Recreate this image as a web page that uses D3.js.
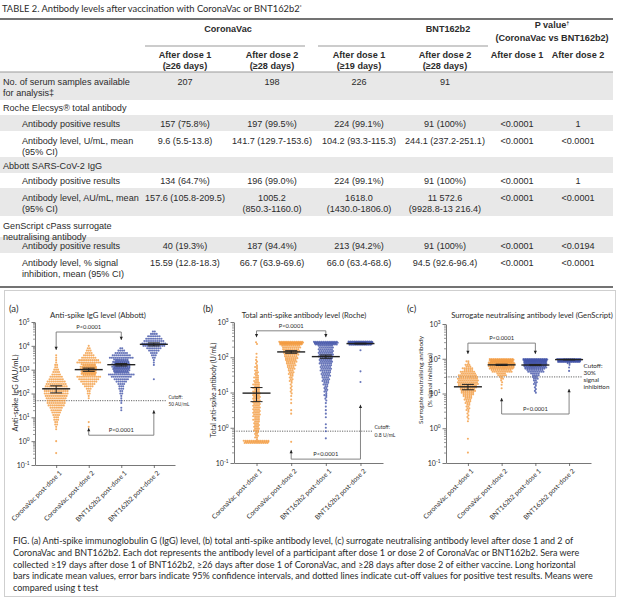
<!DOCTYPE html>
<html><head><meta charset="utf-8">
<script src="https://cdn.jsdelivr.net/npm/d3@7"></script>
<style>body{margin:0;background:#fff}svg{display:block}</style>
</head><body>
<svg id="c" width="620" height="600"></svg>
<script>
// ---------------- DATA ----------------
const groups = ["CoronaVac post-dose 1","CoronaVac post-dose 2","BNT162b2 post-dose 1","BNT162b2 post-dose 2"];
const groupColors = ["#f39a3d","#f39a3d","#4152a8","#4152a8"];

// Table text
const tableTitle = "TABLE 2. Antibody levels after vaccination with CoronaVac or BNT162b2";
const vaccineHeaders = ["CoronaVac","BNT162b2"];
const pHeader = ["P value","(CoronaVac vs BNT162b2)"];
const doseHeaders = ["After dose 1","After dose 2","After dose 1","After dose 2","After dose 1","After dose 2"];
const dayHeaders = ["(≥26 days)","(≥28 days)","(≥19 days)","(≥28 days)","",""];
const sampleCounts = ["207","198","226","91","",""];
const rochePositive = ["157 (75.8%)","197 (99.5%)","224 (99.1%)","91 (100%)","<0.0001","1"];
const rocheLevel = ["9.6 (5.5-13.8)","141.7 (129.7-153.6)","104.2 (93.3-115.3)","244.1 (237.2-251.1)","<0.0001","<0.0001"];
const abbottPositive = ["134 (64.7%)","196 (99.0%)","224 (99.1%)","91 (100%)","<0.0001","1"];
const abbottLevel = [["157.6 (105.8-209.5)"],["1005.2","(850.3-1160.0)"],["1618.0","(1430.0-1806.0)"],["11 572.6","(9928.8-13 216.4)"],["<0.0001"],["<0.0001"]];
const genPositive = ["40 (19.3%)","187 (94.4%)","213 (94.2%)","91 (100%)","<0.0001","<0.0194"];
const genLevel = ["15.59 (12.8-18.3)","66.7 (63.9-69.6)","66.0 (63.4-68.6)","94.5 (92.6-96.4)","<0.0001","<0.0001"];

// Plot means and 95% CI
const abbottMean = [157.6, 1005.2, 1618.0, 11572.6];
const abbottCI = [[105.8,209.5],[850.3,1160.0],[1430.0,1806.0],[9928.8,13216.4]];
const rocheMean = [9.6, 141.7, 104.2, 244.1];
const rocheCI = [[5.5,13.8],[129.7,153.6],[93.3,115.3],[237.2,251.1]];
const genMean = [15.59, 66.7, 66.0, 94.5];
const genCI = [[12.8,18.3],[63.9,69.6],[63.4,68.6],[92.6,96.4]];

// Dot distributions: participants per 0.1-log10 bin, first bin at log10 = start
const abbottStart = [-0.5, 0.6, 1.3, 2.6];
const abbottCounts = [
  [1,0,0,0,0,1,0,0,0,0,1,1,2,2,3,3,4,5,6,7,9,10,10,11,12,13,13,13,12,11,10,8,7,5,4,3,2,2,1,1,1,1],
  [1,0,1,0,0,0,0,0,0,0,0,0,1,1,2,2,3,5,7,9,11,13,15,16,17,17,15,13,11,8,6,4,3,2,1],
  [1,1,0,1,1,1,1,2,2,3,3,4,6,8,11,14,16,18,19,19,17,15,13,10,7,4,2],
  [1,0,0,0,0,0,1,1,1,2,3,4,6,8,12,13,11,9,7,4,2]
];
const rocheStart = [-0.4, -0.4, -0.3, 1.3];
const rocheCounts = [
  [40,3,4,5,6,6,7,7,8,8,8,8,8,8,8,7,7,6,5,4,4,3,2,2,1,1,0,0,2],
  [1,0,0,0,0,0,0,0,1,1,0,1,1,1,2,2,2,3,4,5,6,8,10,12,14,16,18,20,62],
  [1,0,1,1,1,0,1,1,1,1,1,2,3,3,4,5,7,8,10,11,12,13,14,15,16,16,16,50],
  [1,0,0,1,0,0,0,0,0,1,0,88]
];
const genStart = [-0.7, 1.15, 1.05, 1.65];
const genCounts = [
  [1,0,0,0,1,0,0,0,0,1,2,2,3,4,5,7,9,13,16,19,22,22,20,16,11,6,3],
  [1,1,2,4,10,22,40,55,63],
  [2,2,3,4,6,9,18,35,60,87],
  [1,1,3,86]
];

const cutoffs = [50, 0.8, 30];
const cutoffLabels = [["Cutoff:","50 AU/mL"],["Cutoff:","0.8 U/mL"],["Cutoff:","30%","signal","inhibition"]];
const panelTitles = ["Anti-spike IgG level (Abbott)","Total anti-spike antibody level (Roche)","Surrogate neutralising antibody level (GenScript)"];
const panelLetters = ["(a)","(b)","(c)"];
const yLabels = [["Anti-spike IgG (AU/mL)"],["Total anti-spike antibody (U/mL)"],["Surrogate neutralising antibody","(% signal inhibition)"]];
const pText = "P<0.0001";

const captionLines = [
  "FIG.  (a) Anti-spike immunoglobulin G (IgG) level, (b) total anti-spike antibody level, (c) surrogate neutralising antibody level after dose 1 and 2 of",
  "CoronaVac and BNT162b2. Each dot represents the antibody level of a participant after dose 1 or dose 2 of CoronaVac or BNT162b2. Sera were",
  "collected ≥19 days after dose 1 of BNT162b2, ≥26 days after dose 1 of CoronaVac, and ≥28 days after dose 2 of either vaccine. Long horizontal",
  "bars indicate mean values, error bars indicate 95% confidence intervals, and dotted lines indicate cut-off values for positive test results. Means were",
  "compared using t test"
];

// ---------------- DRAW ----------------
const svg = d3.select("#c");
const TF = "'Liberation Sans', Arial, Helvetica, sans-serif";
const FF = "Lato, 'Open Sans', sans-serif";
const ink = "#2b2b2b";
function fit(sel, target){
  const fs = +sel.attr("font-size");
  const w = sel.node().getComputedTextLength();
  const nf = w>0 ? fs*target/w : fs;
  sel.attr("font-size", nf);
  return nf;
}

// ===== TABLE =====
const titleEl = svg.append("text").attr("x",2).attr("y",9).attr("dy","0.35em").attr("font-family",FF).attr("font-size",9).attr("fill",ink).text(tableTitle);
const tfs = fit(titleEl, 298);
titleEl.append("tspan").attr("dy",-3.5).attr("font-size",tfs*0.55).text("*");

const tableW = 613;
const colX = [185, 272, 359, 445, 517, 578];
const rows = [
  {top:72, h:28, fill:true, label:["No. of serum samples available","for analysis‡"], indent:0, cells:sampleCounts.map(d=>[d])},
  {top:100, h:15, fill:false, label:["Roche Elecsys® total antibody"], indent:0, cells:[]},
  {top:115, h:16, fill:true, label:["Antibody positive results"], indent:1, cells:rochePositive.map(d=>[d])},
  {top:131, h:26, fill:false, label:["Antibody level, U/mL, mean","(95% CI)"], indent:1, cells:rocheLevel.map(d=>[d])},
  {top:157, h:16, fill:true, label:["Abbott SARS-CoV-2 IgG"], indent:0, cells:[]},
  {top:173, h:15, fill:false, label:["Antibody positive results"], indent:1, cells:abbottPositive.map(d=>[d])},
  {top:188, h:28, fill:true, label:["Antibody level, AU/mL, mean","(95% CI)"], indent:1, cells:abbottLevel},
  {top:216, h:21, fill:false, label:["GenScript cPass surrogate","neutralising antibody"], indent:0, cells:[]},
  {top:237, h:16, fill:true, label:["Antibody positive results"], indent:1, cells:genPositive.map(d=>[d])},
  {top:253, h:30, fill:false, label:["Antibody level, % signal","inhibition, mean (95% CI)"], indent:1, cells:genLevel.map(d=>[d])}
];
const tg = svg.append("g").attr("font-family",TF).attr("font-size",9.1).attr("fill",ink);
rows.forEach(r=>{
  if (r.fill) tg.append("rect").attr("x",0).attr("y",r.top).attr("width",tableW).attr("height",r.h).attr("fill","#e8e8e8");
});
rows.forEach(r=>{
  const multi = r.label.length>1 || r.cells.some(c=>c.length>1);
  const y0 = multi ? r.top+10 : r.top + r.h/2 + 0.5;
  r.label.forEach((l,i)=>{
    tg.append("text").attr("x", r.indent? 22:3).attr("y", y0+i*10.8).attr("dy","0.35em").text(l);
  });
  r.cells.forEach((c,ci)=>{
    c.forEach((l,i)=>{
      tg.append("text").attr("x",colX[ci]).attr("y",y0+i*10.8).attr("dy","0.35em").attr("text-anchor","middle").text(l);
    });
  });
});
const hg = svg.append("g").attr("font-family",TF).attr("font-size",9.1).attr("font-weight","bold").attr("fill",ink).attr("text-anchor","middle");
hg.append("text").attr("x",228).attr("y",29).attr("dy","0.35em").text(vaccineHeaders[0]);
hg.append("text").attr("x",448).attr("y",29).attr("dy","0.35em").text(vaccineHeaders[1]);
hg.append("text").attr("x",552).attr("y",25).attr("dy","0.35em").text(pHeader[0]).append("tspan").attr("dy",-3).attr("font-size",5.5).text("†");
hg.append("text").attr("x",552).attr("y",38).attr("dy","0.35em").text(pHeader[1]);
doseHeaders.forEach((d,i)=>{
  hg.append("text").attr("x",colX[i]).attr("y",55).attr("dy","0.35em").text(d);
  if (dayHeaders[i]) hg.append("text").attr("x",colX[i]).attr("y",66).attr("dy","0.35em").text(dayHeaders[i]);
});
svg.append("line").attr("x1",0).attr("x2",tableW).attr("y1",19).attr("y2",19).attr("stroke","#444").attr("stroke-width",1.3);
svg.append("line").attr("x1",145).attr("x2",305).attr("y1",46).attr("y2",46).attr("stroke","#999");
svg.append("line").attr("x1",318).attr("x2",488).attr("y1",46).attr("y2",46).attr("stroke","#999");
svg.append("line").attr("x1",0).attr("x2",tableW).attr("y1",72).attr("y2",72).attr("stroke","#999");
svg.append("line").attr("x1",0).attr("x2",tableW).attr("y1",287).attr("y2",287).attr("stroke","#444").attr("stroke-width",1.3);

// ===== FIGURE =====
svg.append("rect").attr("x",4.5).attr("y",290.5).attr("width",611).attr("height",306).attr("fill","#fff").attr("stroke","#cfcfcf");

const panels = [
  {x0:35, x1:175, yDom:[0.1,1e5], yRange:[465,322], start:abbottStart, counts:abbottCounts, mean:abbottMean, ci:abbottCI, baseRows:1,
   letterX:9, titleX:98, titleW:96, ylabX:[15], yCenter:393, ylabW:[77], cutEnd:167, cutFitLine:1, cutW:21,
   top:{a:0,b:2,bar:Math.pow(10,4.58),tipA:Math.pow(10,3.83),tipB:Math.pow(10,4.25)},
   bot:{a:1,b:3,bar:Math.pow(10,0.25),tipA:Math.pow(10,0.55),tipB:Math.pow(10,1.3)}},
  {x0:234, x1:383, yDom:[0.1,1e3], yRange:[463,322], start:rocheStart, counts:rocheCounts, mean:rocheMean, ci:rocheCI, baseRows:2,
   letterX:203, titleX:304, titleW:125, ylabX:[214], yCenter:390, ylabW:[95], cutEnd:373, cutFitLine:1, cutW:21,
   top:{a:0,b:2,bar:Math.pow(10,2.75),tipA:Math.pow(10,2.57),tipB:Math.pow(10,2.57)},
   bot:{a:1,b:3,bar:Math.pow(10,-0.89),tipA:Math.pow(10,-0.63),tipB:Math.pow(10,0.65)}},
  {x0:446, x1:591, yDom:[0.1,1e3], yRange:[463,324], start:genStart, counts:genCounts, mean:genMean, ci:genCI, baseRows:2,
   letterX:407, titleX:532, titleW:162, ylabX:[421,430], yCenter:380, ylabW:[88], cutEnd:582, cutFitLine:3, cutW:26,
   top:{a:0,b:2,bar:Math.pow(10,2.45),tipA:Math.pow(10,2.14),tipB:Math.pow(10,2.14)},
   bot:{a:1,b:3,bar:Math.pow(10,0.41),tipA:Math.pow(10,0.87),tipB:Math.pow(10,1.13)}}
];

panels.forEach((p,pi)=>{
  const g = svg.append("g");
  const x = d3.scalePoint().domain(groups).range([p.x0,p.x1]).padding(0.65);
  const y = d3.scaleLog().domain(p.yDom).range(p.yRange);
  const yBottom = p.yRange[0];

  g.append("text").attr("x",p.letterX).attr("y",309).attr("dy","0.35em").attr("font-family",FF).attr("font-size",9.5).attr("fill",ink).text(panelLetters[pi]);
  const tt = g.append("text").attr("x",p.titleX).attr("y",315).attr("dy","0.35em").attr("text-anchor","middle").attr("font-family",FF).attr("font-size",7).attr("fill",ink).text(panelTitles[pi]);
  fit(tt, p.titleW);

  let yfs = null;
  yLabels[pi].forEach((l,i)=>{
    const t = g.append("text").attr("transform",`translate(${p.ylabX[i]},${p.yCenter}) rotate(-90)`).attr("text-anchor","middle").attr("dy","0.35em")
      .attr("font-family",FF).attr("font-size",7).attr("fill",ink).text(l);
    if (i===0) yfs = fit(t, p.ylabW[0]); else t.attr("font-size", yfs);
  });

  const lo = Math.log10(p.yDom[0]), hi = Math.log10(p.yDom[1]);
  const minor = [];
  for (let e=lo; e<hi; e++) for (let m=2; m<=9; m++) minor.push(m*Math.pow(10,e));
  const major = d3.range(lo, hi+1).map(e=>Math.pow(10,e));
  const yMinor = g.append("g").attr("transform",`translate(${p.x0},0)`)
    .call(d3.axisLeft(y).tickValues(minor).tickSize(2).tickFormat(""));
  yMinor.select(".domain").remove();
  yMinor.selectAll("line").attr("stroke","#555").attr("stroke-width",0.6);
  const yMaj = g.append("g").attr("transform",`translate(${p.x0},0)`)
    .call(d3.axisLeft(y).tickValues(major).tickSize(3.5).tickPadding(2).tickSizeOuter(0).tickFormat(""));
  yMaj.select(".domain").attr("stroke","#555").attr("stroke-width",0.8);
  yMaj.selectAll("line").attr("stroke","#555").attr("stroke-width",0.8);
  yMaj.selectAll(".tick text").each(function(d){
    const t = d3.select(this).attr("font-family",FF).attr("font-size",7).attr("fill",ink);
    t.append("tspan").text("10");
    t.append("tspan").attr("dy",-2.8).attr("font-size",4.8).text(String(Math.round(Math.log10(d))));
  });

  const xa = g.append("g").attr("transform",`translate(0,${yBottom})`)
    .call(d3.axisBottom(x).tickSize(3).tickSizeOuter(0));
  xa.select(".domain").attr("stroke","#555").attr("stroke-width",0.8);
  xa.selectAll("line").attr("stroke","#555").attr("stroke-width",0.8);
  const xt = xa.selectAll(".tick text").attr("font-family",FF).attr("font-size",7).attr("fill",ink)
    .attr("text-anchor","end").attr("transform","translate(2,3) rotate(-45)").attr("dy","0.35em").attr("dx","-0.2em").attr("y",4);
  const xfs = fit(d3.select(xt.nodes()[0]), 68);
  xt.attr("font-size", xfs);

  g.append("line").attr("x1",p.x0).attr("x2",p.cutEnd).attr("y1",y(cutoffs[pi])).attr("y2",y(cutoffs[pi]))
    .attr("stroke","#555").attr("stroke-width",0.9).attr("stroke-dasharray","1.2,1.2");
  const cl = cutoffLabels[pi];
  const cEls = cl.map((t,i)=> g.append("text").attr("x",p.cutEnd+1.5)
      .attr("y",y(cutoffs[pi]) + (i-(cl.length-1)/2)*(cl.length>2?7:7.4) + (cl.length>2?-1:0)).attr("dy","0.35em")
      .attr("font-family",FF).attr("font-size",6.5).attr("fill",ink).text(t));
  const cfs0 = fit(cEls[p.cutFitLine], p.cutW);
  cEls.forEach(e=>e.attr("font-size", cfs0));

  const binStep = 0.1;
  const binPx = Math.abs(y(Math.pow(10,binStep)) - y(1));
  const dx = 1.9, maxPerRow = 14;
  groups.forEach((gname,gi)=>{
    const cx = x(gname);
    const pts = [];
    p.counts[gi].forEach((c,i)=>{
      if (!c) return;
      const yc = y(Math.pow(10, p.start[gi] + i*binStep));
      const k = Math.max(p.baseRows, Math.ceil(c/maxPerRow));
      const kk = Math.min(k, c);
      const gap = binPx / k;
      for (let r=0; r<kk; r++){
        const n = Math.floor(c/kk) + (r < c%kk ? 1 : 0);
        const off = kk>1 ? ((r%2) ? dx/4 : -dx/4) : 0;
        for (let j=0;j<n;j++) pts.push([cx + (j-(n-1)/2)*dx + off, yc + (r-(kk-1)/2)*gap]);
      }
    });
    g.append("g").selectAll("circle").data(pts).join("circle")
      .attr("cx",d=>d[0]).attr("cy",d=>d[1]).attr("r",1.05)
      .attr("fill",groupColors[gi]).attr("fill-opacity",0.8);
  });

  groups.forEach((gname,gi)=>{
    const cx = x(gname);
    const mg = g.append("g").attr("stroke","#222");
    mg.append("line").attr("x1",cx-14).attr("x2",cx+14).attr("y1",y(p.mean[gi])).attr("y2",y(p.mean[gi])).attr("stroke-width",1.4);
    mg.append("line").attr("x1",cx).attr("x2",cx).attr("y1",y(p.ci[gi][0])).attr("y2",y(p.ci[gi][1])).attr("stroke-width",1);
    p.ci[gi].forEach(v=>{
      mg.append("line").attr("x1",cx-6).attr("x2",cx+6).attr("y1",y(v)).attr("y2",y(v)).attr("stroke-width",1);
    });
  });

  function bracket(b, up){
    const xa_ = x(groups[b.a]), xb_ = x(groups[b.b]);
    const yb = y(b.bar), ya = y(b.tipA), yt = y(b.tipB);
    g.append("path").attr("d",`M${xa_},${ya}V${yb}H${xb_}V${yt}`).attr("fill","none").attr("stroke","#777").attr("stroke-width",0.9);
    [[xa_,ya],[xb_,yt]].forEach(([ax,ay])=>{
      const s = up ? -1 : 1;
      g.append("path").attr("d",`M${ax},${ay}L${ax-1.6},${ay-s*3.2}L${ax+1.6},${ay-s*3.2}Z`).attr("fill","#222");
    });
    const t = g.append("text").attr("x",(xa_+xb_)/2).attr("y",yb-3.2).attr("text-anchor","middle")
      .attr("font-family",FF).attr("font-size",6.5).attr("fill",ink).text(pText);
    fit(t, 25);
  }
  bracket(p.top, false);
  bracket(p.bot, true);
});

const cg = svg.append("g").attr("font-family",FF).attr("fill",ink);
const capEls = captionLines.map((l,i)=> cg.append("text").attr("x",13).attr("y",541 + i*11.7).attr("dy","0.35em").attr("font-size",8.5).text(l));
const cfs = fit(capEls[3], 580);
capEls.forEach(e=>e.attr("font-size", cfs));
</script>
</body></html>
